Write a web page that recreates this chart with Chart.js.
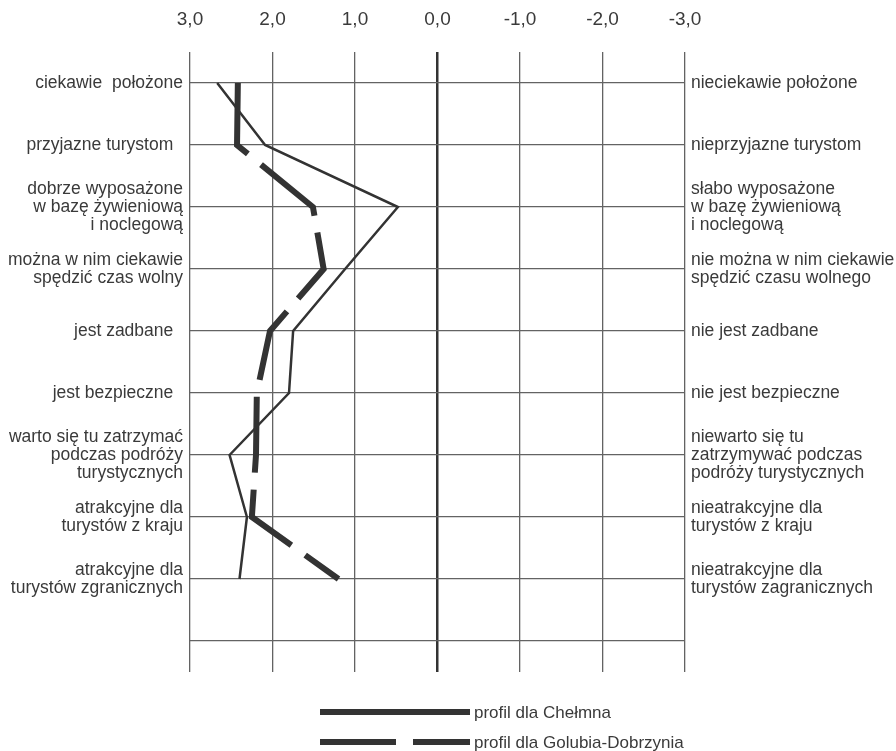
<!DOCTYPE html>
<html lang="pl">
<head>
<meta charset="utf-8">
<title>Profil semantyczny</title>
<script src="https://cdn.jsdelivr.net/npm/chart.js@4.4.1/dist/chart.umd.min.js"></script>
<style>
    html, body { margin: 0; padding: 0; background: #fff; }
    #wrap { position: relative; width: 896px; height: 751px; }
</style>
</head>
<body>
<div id="wrap"><canvas id="profile-chart"></canvas></div>
<script>
// cechy pozytywne (lewa strona)
var leftLabels = [
    'ciekawie  położone',
    'przyjazne turystom  ',
    ['dobrze wyposażone', 'w bazę żywieniową', 'i noclegową'],
    ['można w nim ciekawie', 'spędzić czas wolny'],
    'jest zadbane  ',
    'jest bezpieczne  ',
    ['warto się tu zatrzymać', 'podczas podróży', 'turystycznych'],
    ['atrakcyjne dla', 'turystów z kraju'],
    ['atrakcyjne dla', 'turystów zgranicznych'],
    ''
];

// cechy negatywne (prawa strona)
var rightLabels = [
    'nieciekawie położone',
    'nieprzyjazne turystom',
    ['słabo wyposażone', 'w bazę żywieniową', 'i noclegową'],
    ['nie można w nim ciekawie', 'spędzić czasu wolnego'],
    'nie jest zadbane',
    'nie jest bezpieczne',
    ['niewarto się tu', 'zatrzymywać podczas', 'podróży turystycznych'],
    ['nieatrakcyjne dla', 'turystów z kraju'],
    ['nieatrakcyjne dla', 'turystów zagranicznych'],
    ''
];

var scaleTicks = [3, 2, 1, 0, -1, -2, -3];

var chelmno = [2.67, 2.09, 0.48, 1.12, 1.75, 1.80, 2.52, 2.31, 2.40];
var golub = [2.42, 2.43, 1.51, 1.38, 2.03, 2.19, 2.20, 2.25, 1.20];

var seriesNames = ['profil dla Chełmna', 'profil dla Golubia-Dobrzynia'];

var textColor = '#3a3a3a';
var gridColor = '#636363';
var fontFamily = '"Liberation Sans", Arial, sans-serif';

// legenda: linia + opis pod wykresem
var legendLines = {
    id: 'legendLines',
    afterDraw: function(chart) {
        var ctx = chart.ctx;
        var x0 = chart.chartArea.left + 130;
        chart.data.datasets.forEach(function(ds, i) {
            var y = chart.chartArea.bottom + 40 + i * 30;
            ctx.save();
            ctx.strokeStyle = ds.borderColor;
            ctx.lineWidth = 6;
            ctx.lineCap = 'butt';
            ctx.setLineDash(ds.borderDash || []);
            ctx.beginPath();
            ctx.moveTo(x0, y);
            ctx.lineTo(x0 + 150, y);
            ctx.stroke();
            ctx.setLineDash([]);
            ctx.fillStyle = textColor;
            ctx.font = '17px ' + fontFamily;
            ctx.textBaseline = 'middle';
            ctx.fillText(ds.label, x0 + 154, y + 1);
            ctx.restore();
        });
    }
};

var ctx = document.getElementById('profile-chart').getContext('2d');

var profileChart = new Chart(ctx, {
    type: 'line',
    data: {
        labels: leftLabels,
        datasets: [
            {
                label: seriesNames[0],
                data: chelmno,
                borderColor: '#333333',
                borderWidth: 2.5,
                pointRadius: 0,
                tension: 0
            },
            {
                label: seriesNames[1],
                data: golub,
                borderColor: '#333333',
                borderWidth: 6,
                borderDash: [76, 17],
                pointRadius: 0,
                tension: 0
            }
        ]
    },
    options: {
        indexAxis: 'y',
        responsive: true,
        maintainAspectRatio: false,
        animation: false,
        layout: {
            padding: { top: 0, right: 0, bottom: 79, left: 0 }
        },
        plugins: {
            legend: { display: false },
            tooltip: { enabled: false }
        },
        scales: {
            x: {
                type: 'linear',
                position: 'top',
                reverse: true,
                min: -3,
                max: 3,
                afterBuildTicks: function(scale) {
                    scale.ticks = scaleTicks.map(function(v) { return { value: v }; });
                },
                afterFit: function(scale) { scale.height = 52; },
                ticks: {
                    color: textColor,
                    font: { family: fontFamily, size: 19 },
                    padding: 21,
                    callback: function(v) { return v.toFixed(1).replace('.', ','); }
                },
                grid: {
                    drawTicks: false,
                    color: function(c) { return c.tick && c.tick.value === 0 ? '#333333' : gridColor; },
                    lineWidth: function(c) { return c.tick && c.tick.value === 0 ? 2.5 : 1.3; }
                },
                border: { display: false }
            },
            y: {
                type: 'category',
                position: 'left',
                labels: leftLabels,
                offset: true,
                afterFit: function(scale) { scale.width = 190; },
                ticks: {
                    color: textColor,
                    font: { family: fontFamily, size: 17.5, lineHeight: 1.03 },
                    padding: 7,
                    autoSkip: false
                },
                grid: {
                    offset: false,
                    drawTicks: false,
                    color: gridColor,
                    lineWidth: 1.3
                },
                border: { display: false }
            },
            y2: {
                type: 'category',
                position: 'right',
                labels: rightLabels,
                offset: true,
                afterFit: function(scale) { scale.width = 211; },
                ticks: {
                    color: textColor,
                    font: { family: fontFamily, size: 17.5, lineHeight: 1.03 },
                    padding: 6,
                    autoSkip: false
                },
                grid: { display: false, drawTicks: false },
                border: { display: false }
            }
        }
    },
    plugins: [legendLines]
});
</script>
</body>
</html>
